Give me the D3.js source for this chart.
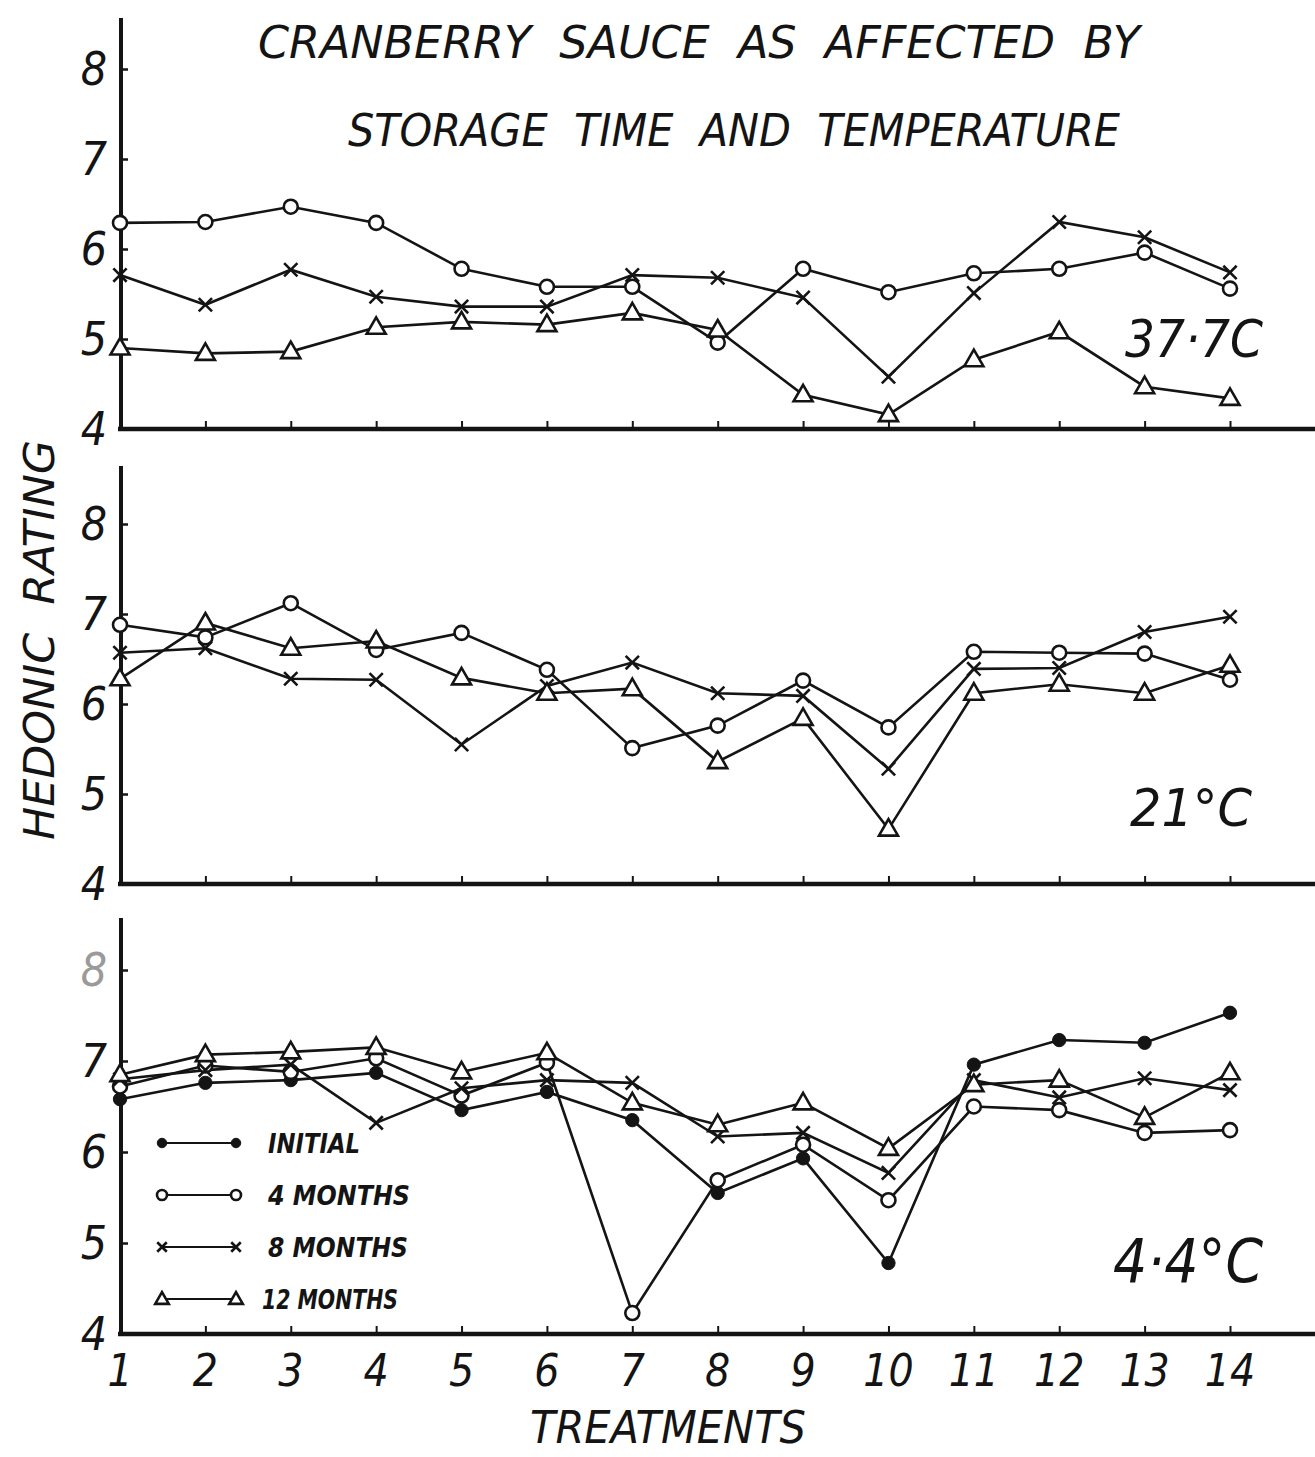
<!DOCTYPE html>
<html><head><meta charset="utf-8">
<script src="https://cdn.jsdelivr.net/npm/d3@7/dist/d3.min.js"></script>
<style>
html,body{margin:0;padding:0;background:#fff;}
text{font-family:"DejaVu Sans Condensed","DejaVu Sans","Liberation Sans Narrow",sans-serif;font-style:italic;fill:#141414;white-space:pre;}
</style></head>
<body>
<svg id="chart" width="1315" height="1457"></svg>
<script>
// ---------- DATA ----------
const treatments = [1,2,3,4,5,6,7,8,9,10,11,12,13,14];
const seriesNames = ["INITIAL","4 MONTHS","8 MONTHS","12 MONTHS"];
const seriesMarkers = ["dot","circle","cross","triangle"];
const panelLabels = ["37·7C","21°C","4·4°C"];
const yTicks = [4,5,6,7,8];
const titleLines = ["CRANBERRY  SAUCE  AS  AFFECTED  BY","STORAGE  TIME  AND  TEMPERATURE"];
const yAxisTitle = "HEDONIC  RATING";
const xAxisTitle = "TREATMENTS";

// 37.7 °C
const t37_4m  = [6.29,6.30,6.47,6.29,5.78,5.58,5.58,4.96,5.78,5.52,5.73,5.78,5.96,5.56];
const t37_8m  = [5.71,5.38,5.77,5.47,5.36,5.36,5.71,5.68,5.46,4.58,5.51,6.30,6.13,5.74];
const t37_12m = [4.90,4.84,4.86,5.13,5.19,5.16,5.29,5.10,4.38,4.16,4.77,5.08,4.47,4.34];
// 21 °C
const t21_4m  = [6.88,6.74,7.12,6.60,6.79,6.38,5.51,5.76,6.26,5.74,6.58,6.57,6.56,6.27];
const t21_8m  = [6.57,6.62,6.28,6.27,5.55,6.20,6.46,6.12,6.09,5.28,6.39,6.40,6.80,6.97];
const t21_12m = [6.28,6.90,6.62,6.70,6.29,6.12,6.17,5.36,5.84,4.61,6.12,6.22,6.12,6.43];
// 4.4 °C
const t4_init = [6.58,6.76,6.79,6.87,6.46,6.66,6.35,5.55,5.93,4.78,6.96,7.23,7.20,7.53];
const t4_4m   = [6.72,6.95,6.88,7.03,6.62,6.98,4.23,5.69,6.08,5.47,6.50,6.46,6.21,6.24];
const t4_8m   = [6.80,6.90,6.96,6.32,6.70,6.79,6.76,6.17,6.21,5.77,6.79,6.60,6.81,6.68];
const t4_12m  = [6.85,7.07,7.10,7.15,6.88,7.09,6.54,6.30,6.54,6.04,6.74,6.79,6.38,6.87];

const panelSeries = [
  [null, t37_4m, t37_8m, t37_12m],
  [null, t21_4m, t21_8m, t21_12m],
  [t4_init, t4_4m, t4_8m, t4_12m]
];

// ---------- LAYOUT ----------
const INK = "#141414";
const svg = d3.select("#chart");
const x = d3.scaleLinear().domain([1,14]).range([120,1230]);
const layout = [
  {base:429, unit:90, top:18,  lab:{x:1125,y:357,size:52,len:138}},
  {base:884, unit:90, top:466, lab:{x:1130,y:826,size:52,len:122}},
  {base:1334,unit:91, top:918, lab:{x:1113,y:1282,size:60,len:150}}
];

function drawMarker(g, type, cx, cy, s){
  if(type==="circle"){
    g.append("circle").attr("cx",cx).attr("cy",cy).attr("r",s)
     .attr("fill","#fff").attr("stroke",INK).attr("stroke-width",2.6);
  } else if(type==="dot"){
    g.append("circle").attr("cx",cx).attr("cy",cy).attr("r",s*0.95)
     .attr("fill",INK).attr("stroke",INK).attr("stroke-width",1);
  } else if(type==="cross"){
    const d=s*0.95;
    g.append("path").attr("d",`M${cx-d},${cy-d}L${cx+d},${cy+d}M${cx-d},${cy+d}L${cx+d},${cy-d}`)
     .attr("stroke",INK).attr("stroke-width",2.6).attr("fill","none");
  } else if(type==="triangle"){
    const sym = d3.symbol().type(d3.symbolTriangle).size(s*s*3.2);
    g.append("path").attr("d",sym()).attr("transform",`translate(${cx},${cy+1})`)
     .attr("fill","#fff").attr("stroke",INK).attr("stroke-width",2.6);
  }
}

layout.forEach((L,pi)=>{
  const y = d3.scaleLinear().domain([4,8]).range([L.base, L.base-4*L.unit]);
  const g = svg.append("g");

  // axis lines
  g.append("line").attr("x1",121).attr("x2",121).attr("y1",L.top).attr("y2",L.base+2)
   .attr("stroke",INK).attr("stroke-width",4);
  g.append("line").attr("x1",118).attr("x2",1315).attr("y1",L.base).attr("y2",L.base)
   .attr("stroke",INK).attr("stroke-width",4.5);

  // x ticks (upward)
  const xa = g.append("g").attr("transform",`translate(0,${L.base})`)
    .call(d3.axisTop(x).tickValues(treatments).tickSize(8).tickFormat(""));
  xa.select(".domain").remove();
  xa.selectAll("line").attr("stroke",INK).attr("stroke-width",2);

  // y ticks (inward)
  const ya = g.append("g").attr("transform",`translate(121,0)`)
    .call(d3.axisRight(y).tickValues(yTicks).tickSize(7).tickFormat(""));
  ya.select(".domain").remove();
  ya.selectAll("line").attr("stroke",INK).attr("stroke-width",2.5);

  // y tick labels
  g.selectAll("text.ylab").data(yTicks).enter().append("text")
   .attr("class","ylab")
   .attr("x",107).attr("y",d=>y(d)+16)
   .attr("text-anchor","end")
   .style("font-size","46px")
   .style("fill",(d)=> (pi===2 && d===8) ? "#9a9a9a" : INK)
   .text(d=>d);

  // series
  const line = d3.line().x((d,i)=>x(treatments[i])).y(d=>y(d));
  panelSeries[pi].forEach((vals,si)=>{
    if(!vals) return;
    g.append("path").datum(vals).attr("d",line)
     .attr("fill","none").attr("stroke",INK).attr("stroke-width",2.6);
  });
  panelSeries[pi].forEach((vals,si)=>{
    if(!vals) return;
    const mg = g.append("g");
    vals.forEach((v,i)=>drawMarker(mg, seriesMarkers[si], x(treatments[i]), y(v), 7));
  });

  // panel label
  g.append("text").attr("x",L.lab.x).attr("y",L.lab.y)
   .style("font-size",L.lab.size+"px")
   .attr("textLength",L.lab.len).attr("lengthAdjust","spacingAndGlyphs")
   .text(panelLabels[pi]);
});

// x tick labels (bottom panel)
svg.selectAll("text.xlab").data(treatments).enter().append("text")
  .attr("class","xlab")
  .attr("x",d=>x(d)).attr("y",1386)
  .attr("text-anchor","middle")
  .style("font-size","44px")
  .text(d=>d);

// titles
svg.append("text").attr("x",258).attr("y",58).style("font-size","44px")
  .attr("textLength",882).attr("lengthAdjust","spacingAndGlyphs").text(titleLines[0]);
svg.append("text").attr("x",348).attr("y",146).style("font-size","44px")
  .attr("textLength",772).attr("lengthAdjust","spacingAndGlyphs").text(titleLines[1]);

// y axis title
svg.append("text").attr("transform","translate(54,840) rotate(-90)")
  .style("font-size","42px")
  .attr("textLength",400).attr("lengthAdjust","spacingAndGlyphs")
  .text(yAxisTitle);

// x axis title
svg.append("text").attr("x",530).attr("y",1443).style("font-size","44px")
  .attr("textLength",276).attr("lengthAdjust","spacingAndGlyphs").text(xAxisTitle);

// legend
const legY = [1143,1195,1247,1299];
const legLen = [92,142,140,136];
const lg = svg.append("g");
seriesNames.forEach((name,i)=>{
  lg.append("line").attr("x1",162).attr("x2",236).attr("y1",legY[i]).attr("y2",legY[i])
    .attr("stroke",INK).attr("stroke-width",2.2);
  drawMarker(lg, seriesMarkers[i], 162, legY[i], 5);
  drawMarker(lg, seriesMarkers[i], 236, legY[i], 5);
  lg.append("text").attr("x", i===3 ? 262 : 268).attr("y",legY[i]+10)
    .style("font-size","26px").style("font-weight","bold")
    .attr("textLength",legLen[i]).attr("lengthAdjust","spacingAndGlyphs")
    .text(name);
});
</script>
</body></html>
